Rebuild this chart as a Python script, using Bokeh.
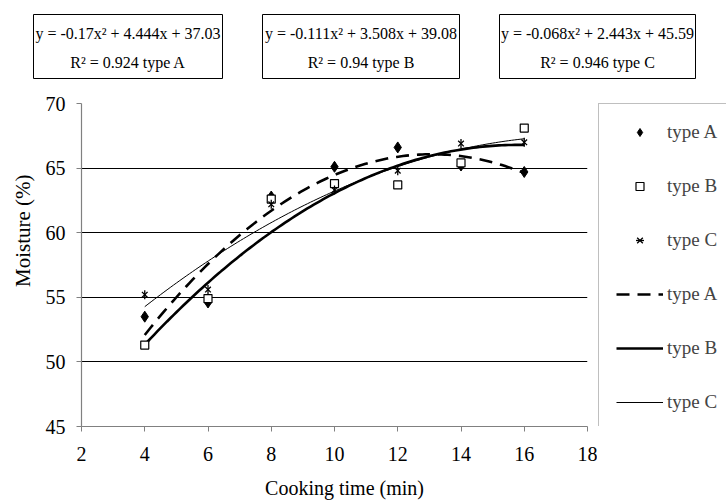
import numpy as np
from bokeh.plotting import figure
from bokeh.layouts import column, row
from bokeh.models import Legend, LegendItem, FixedTicker, Range1d
from bokeh.embed import file_html
from bokeh.resources import INLINE

# ---- data ----
time_min = [4, 6, 8, 10, 12, 14, 16]
moisture_a = [53.5, 54.6, 62.8, 65.1, 66.6, 65.2, 64.7]
moisture_b = [51.3, 54.9, 62.6, 63.8, 63.7, 65.4, 68.1]
moisture_c = [55.2, 55.6, 62.2, 63.3, 64.8, 66.9, 67.0]
coef_a = [-0.17, 4.444, 37.03]
coef_b = [-0.111, 3.508, 39.08]
coef_c = [-0.068, 2.443, 45.59]
r2_vals = [0.924, 0.94, 0.946]
series_names = ["type A", "type B", "type C"]
x_ticks = [2, 4, 6, 8, 10, 12, 14, 16, 18]
y_ticks = [45, 50, 55, 60, 65, 70]
x_title = "Cooking time (min)"
y_title = "Moisture (%)"

FONT = "Liberation Serif"


def blank(w, h, **kw):
    f = figure(width=w, height=h, output_backend="svg", toolbar_location=None,
               x_range=Range1d(0, w), y_range=Range1d(0, h),
               x_axis_type=None, y_axis_type=None, **kw)
    f.outline_line_color = None
    f.xgrid.visible = False
    f.ygrid.visible = False
    return f


# ---------------- top strip with equation boxes ----------------
TOP_W, TOP_H = 726, 88
top = blank(TOP_W, TOP_H, min_border=0)
box_left = [33, 262, 499]
box_right = [222, 459, 695]
box_top, box_bottom = TOP_H - 14, TOP_H - 78
line1_y, line2_y = TOP_H - 33, TOP_H - 62
top.quad(left=box_left, right=box_right, top=[box_top] * 3, bottom=[box_bottom] * 3,
         fill_color="white", line_color="black", line_width=1)
coefs = [coef_a, coef_b, coef_c]
eq_txt = [f"y = {cf[0]}x\u00b2 + {cf[1]}x + {cf[2]}" for cf in coefs]
r2_txt = [f"R\u00b2 = {r} {n}" for r, n in zip(r2_vals, series_names)]
cx = [(l + r) / 2 for l, r in zip(box_left, box_right)]
top.text(x=cx, y=[line1_y] * 3, text=eq_txt, text_align="center", text_baseline="middle",
         text_font={"value": FONT}, text_font_size="16px", text_color="black")
top.text(x=cx, y=[line2_y] * 3, text=r2_txt, text_align="center", text_baseline="middle",
         text_font={"value": FONT}, text_font_size="16px", text_color="black")

MID_H = 386

# ---------------- left strip: y title ----------------
LEFT_W = 35
left = blank(LEFT_W, MID_H, min_border=0)
left.text(x=[22], y=[MID_H - 152], text=[y_title], angle=np.pi / 2,
          text_align="center", text_baseline="middle",
          text_font={"value": FONT}, text_font_size="21px", text_color="black")

# ---------------- main chart ----------------
p = figure(width=562, height=MID_H, output_backend="svg", toolbar_location=None,
           x_range=Range1d(2, 18), y_range=Range1d(45, 70),
           min_border_left=46, min_border_right=10, min_border_top=15, min_border_bottom=48)
p.outline_line_color = None

for ax in (p.xaxis[0], p.yaxis[0]):
    ax.axis_line_color = "#808080"
    ax.axis_line_width = 1.2
    ax.major_tick_line_color = "#808080"
    ax.major_tick_out = 5
    ax.major_tick_in = 0
    ax.minor_tick_line_color = None
    ax.major_label_text_font = FONT
    ax.major_label_text_font_size = "20px"
    ax.major_label_text_color = "black"

p.xaxis.ticker = FixedTicker(ticks=x_ticks)
p.yaxis.ticker = FixedTicker(ticks=y_ticks)
p.xaxis.major_label_standoff = 15
p.yaxis.major_label_standoff = 11

p.xgrid.grid_line_color = None
p.ygrid.ticker = FixedTicker(ticks=y_ticks)
p.ygrid.grid_line_color = "black"
p.ygrid.grid_line_width = 1

xs = np.linspace(time_min[0], time_min[-1], 120)
fit_a = np.polyval(coef_a, xs)
fit_b = np.polyval(coef_b, xs)
fit_c = np.polyval(coef_c, xs)

LA = dict(line_color="black", line_width=2.6, line_dash="13 8")
LB = dict(line_color="black", line_width=2.6)
LC = dict(line_color="black", line_width=1)
MA = dict(marker="diamond", size=11, fill_color="black", line_color="black")
MB = dict(marker="square", size=8, fill_color="white", line_color="black", line_width=1.2)
MC1 = dict(marker="x", size=8, line_color="black", line_width=1.3)
MC2 = dict(marker="dash", size=9, angle=np.pi / 2, line_color="black", line_width=1.3)

p.line(xs, fit_a, **LA)
p.line(xs, fit_b, **LB)
p.line(xs, fit_c, **LC)
p.scatter(time_min, moisture_a, **MA)
p.scatter(time_min, moisture_b, **MB)
p.scatter(time_min, moisture_c, **MC1)
p.scatter(time_min, moisture_c, **MC2)

# ---------------- legend panel ----------------
LG_W = 129
lg = figure(width=LG_W, height=MID_H, output_backend="svg", toolbar_location=None,
            x_range=Range1d(0, 1), y_range=Range1d(0, 1),
            min_border_left=1, min_border_right=0, min_border_top=15, min_border_bottom=0,
            x_axis_type=None, y_axis_type=None)
lg.outline_line_color = None
lg.xgrid.visible = False
lg.ygrid.visible = False
off_x, off_y = [-5], [-5]
ra = lg.scatter(off_x, off_y, **MA)
rb = lg.scatter(off_x, off_y, **MB)
rc1 = lg.scatter(off_x, off_y, **MC1)
rc2 = lg.scatter(off_x, off_y, **MC2)
rla = lg.line([-6, -5], [-5, -5], **LA)
rlb = lg.line([-6, -5], [-5, -5], **LB)
rlc = lg.line([-6, -5], [-5, -5], **LC)

items = [
    LegendItem(label=series_names[0], renderers=[ra]),
    LegendItem(label=series_names[1], renderers=[rb]),
    LegendItem(label=series_names[2], renderers=[rc1, rc2]),
    LegendItem(label=series_names[0], renderers=[rla]),
    LegendItem(label=series_names[1], renderers=[rlb]),
    LegendItem(label=series_names[2], renderers=[rlc]),
]
legend = Legend(items=items, location="top_left", orientation="vertical",
                padding=17, spacing=32, label_height=20, glyph_height=20, glyph_width=47,
                label_standoff=4, label_width=80, margin=0,
                label_text_font=FONT, label_text_font_size="19px",
                border_line_color="#808080", border_line_width=1.5,
                background_fill_color="white", background_fill_alpha=1)
lg.add_layout(legend, "center")

# ---------------- bottom strip: x title ----------------
BOT_H = 26
bottom = blank(726, BOT_H, min_border=0)
bottom.text(x=[344], y=[BOT_H - 13], text=[x_title], text_align="center", text_baseline="middle",
            text_font={"value": FONT}, text_font_size="20px", text_color="black")

layout = column(top, row(left, p, lg, spacing=0), bottom, spacing=0)
open("out.html", "w").write(file_html(layout, INLINE))
